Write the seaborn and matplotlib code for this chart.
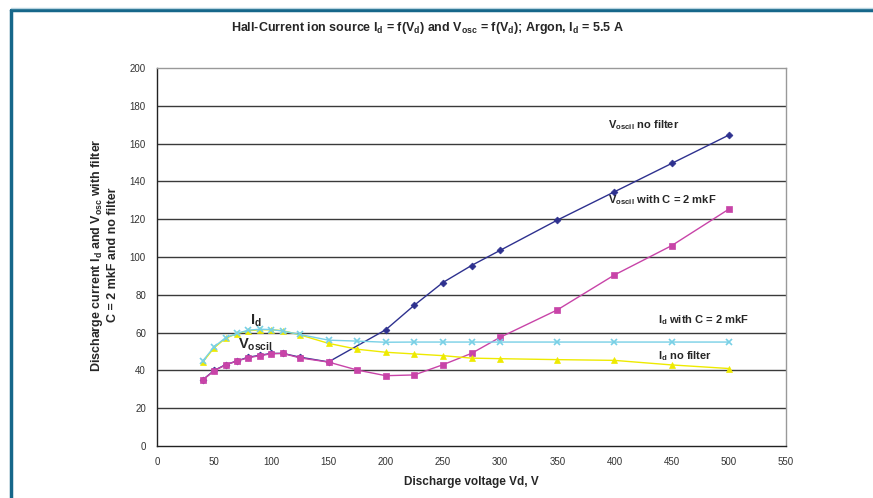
import matplotlib
matplotlib.use("Agg")
import matplotlib.pyplot as plt
from matplotlib.lines import Line2D
from matplotlib.ticker import MultipleLocator
import seaborn as sns
import pandas as pd

# ---- data ----
vosc_nofilter_x = [40, 50, 60, 70, 80, 90, 100, 110, 125, 150, 200, 225, 250, 275, 300, 350, 400, 450, 500]
vosc_nofilter_y = [35, 40, 43, 45, 47, 48, 49, 49, 47, 44.5, 61.5, 74.5, 86.5, 95.5, 103.5, 119.5, 134.5, 149.5, 164.5]

vosc_filter_x = [40, 50, 60, 70, 80, 90, 100, 110, 125, 150, 175, 200, 225, 250, 275, 300, 350, 400, 450, 500]
vosc_filter_y = [35, 39.8, 42.9, 45, 46.7, 47.8, 48.8, 49, 46.6, 44.4, 40.2, 37.2, 37.6, 43, 49, 57.5, 72, 90.5, 106, 125.3]

id_nofilter_x = [40, 50, 60, 70, 80, 90, 100, 110, 125, 150, 175, 200, 225, 250, 275, 300, 350, 400, 450, 500]
id_nofilter_y = [44.4, 52, 57, 59.5, 61, 61.5, 61.5, 61, 58.8, 54.3, 51.2, 49.6, 48.7, 47.8, 46.5, 46.2, 45.7, 45.3, 42.9, 41]

id_filter_x = [40, 50, 60, 70, 80, 90, 100, 110, 125, 150, 175, 200, 225, 250, 275, 300, 350, 400, 450, 500]
id_filter_y = [45, 52.5, 57.3, 59.6, 61.3, 61.8, 61.6, 60.8, 59, 56, 55.5, 54.9, 55, 55, 55, 55, 55, 55, 55, 55]

x_ticks = [0, 50, 100, 150, 200, 250, 300, 350, 400, 450, 500, 550]
y_ticks = [0, 20, 40, 60, 80, 100, 120, 140, 160, 180, 200]

title = r"Hall-Current ion source $I_d$ = f($V_d$) and $V_{osc}$ = f($V_d$); Argon, $I_d$ = 5.5 A"
ylabel = "Discharge current $I_d$ and $V_{osc}$ with filter\nC = 2 mkF and no filter"
xlabel = "Discharge voltage Vd, V"

# ---- style ----
sns.set_style("white")
plt.rcParams["font.family"] = ["Liberation Sans", "DejaVu Sans"]
plt.rcParams["mathtext.fontset"] = "custom"
plt.rcParams["mathtext.rm"] = "Liberation Sans:bold"
plt.rcParams["mathtext.it"] = "Liberation Sans:bold"
plt.rcParams["mathtext.bf"] = "Liberation Sans:bold"
plt.rcParams["mathtext.default"] = "bf"

fig = plt.figure(figsize=(8.73, 4.98), dpi=100)
ax = fig.add_axes([157 / 873, 1 - 446 / 498, (786 - 157) / 873, (446 - 68) / 498])

# grid lines
for yv in y_ticks[1:-1]:
    ax.axhline(yv, color="#3a3a3a", lw=1.0, zorder=1)

series = [
    (vosc_nofilter_x, vosc_nofilter_y, "#2e318f", "D", 3.5),
    (vosc_filter_x, vosc_filter_y, "#c844a8", "s", 4),
    (id_nofilter_x, id_nofilter_y, "#eeea00", "^", 5),
    (id_filter_x, id_filter_y, "#78d0e6", "x", 5),
]
for xs, ys, col, mk, ms in series:
    df = pd.DataFrame({"x": xs, "y": ys})
    sns.lineplot(data=df, x="x", y="y", ax=ax, color=col, marker=mk, markersize=ms,
                 markeredgecolor=col, markeredgewidth=1.2 if mk == "x" else 0.5,
                 linewidth=1.0, sort=False, zorder=3)

ax.set_xlim(0, 550)
ax.set_ylim(0, 200)
ax.set_xticks(x_ticks)
ax.set_yticks(y_ticks)
ax.xaxis.set_minor_locator(MultipleLocator(10))
ax.yaxis.set_minor_locator(MultipleLocator(5))
ax.tick_params(axis="both", which="both", direction="in", colors="#222222",
               labelsize=7, labelcolor="#333333")
ax.tick_params(which="major", length=4, width=0.8)
ax.tick_params(which="minor", length=3, width=0.8)
ax.tick_params(axis="x", pad=8)
ax.tick_params(axis="y", pad=8)
ax.tick_params(top=False, right=False, which="both")
ax.set_xlabel("")
ax.set_ylabel("")

for s in ["left", "bottom"]:
    ax.spines[s].set_color("#222222")
    ax.spines[s].set_linewidth(1.0)
for s in ["top", "right"]:
    ax.spines[s].set_color("#999999")
    ax.spines[s].set_linewidth(1.0)

# annotations
ax.text(81, 66.5, "$I_d$", fontsize=10.5, va="center", ha="left")
ax.text(71, 53.5, "$V_{oscil}$", fontsize=10.5, va="center", ha="left")
ax.text(394, 170, "$V_{oscil}$ no filter", fontsize=8, fontweight="bold", va="center", ha="left")
ax.text(394, 130, "$V_{oscil}$ with C = 2 mkF", fontsize=8, fontweight="bold", va="center", ha="left")
ax.text(438, 66.5, "$I_d$ with C = 2 mkF", fontsize=8, fontweight="bold", va="center", ha="left")
ax.text(438, 47.5, "$I_d$ no filter", fontsize=8, fontweight="bold", va="center", ha="left")

fig.text(427 / 873, 1 - 28 / 498, title, fontsize=9, fontweight="bold", ha="center", va="center")
fig.text(104 / 873, 1 - 255 / 498, ylabel, fontsize=9, fontweight="bold", ha="center",
         va="center", rotation=90, multialignment="center", linespacing=1.3)
fig.text(471 / 873, 1 - 482 / 498, xlabel, fontsize=8.5, fontweight="bold", ha="center", va="center")

# outer decorative frame (top and left)
fig.add_artist(Line2D([11 / 873, 1], [1 - 10.5 / 498, 1 - 10.5 / 498], transform=fig.transFigure,
                      color="#16678a", lw=2.5))
fig.add_artist(Line2D([11 / 873, 11 / 873], [0, 1 - 10.5 / 498], transform=fig.transFigure,
                      color="#16678a", lw=2.5))
fig.add_artist(Line2D([11 / 873, 1], [1 - 8.5 / 498, 1 - 8.5 / 498], transform=fig.transFigure,
                      color="#b8d4e0", lw=1.0))

fig.savefig("out.png", dpi=100)
